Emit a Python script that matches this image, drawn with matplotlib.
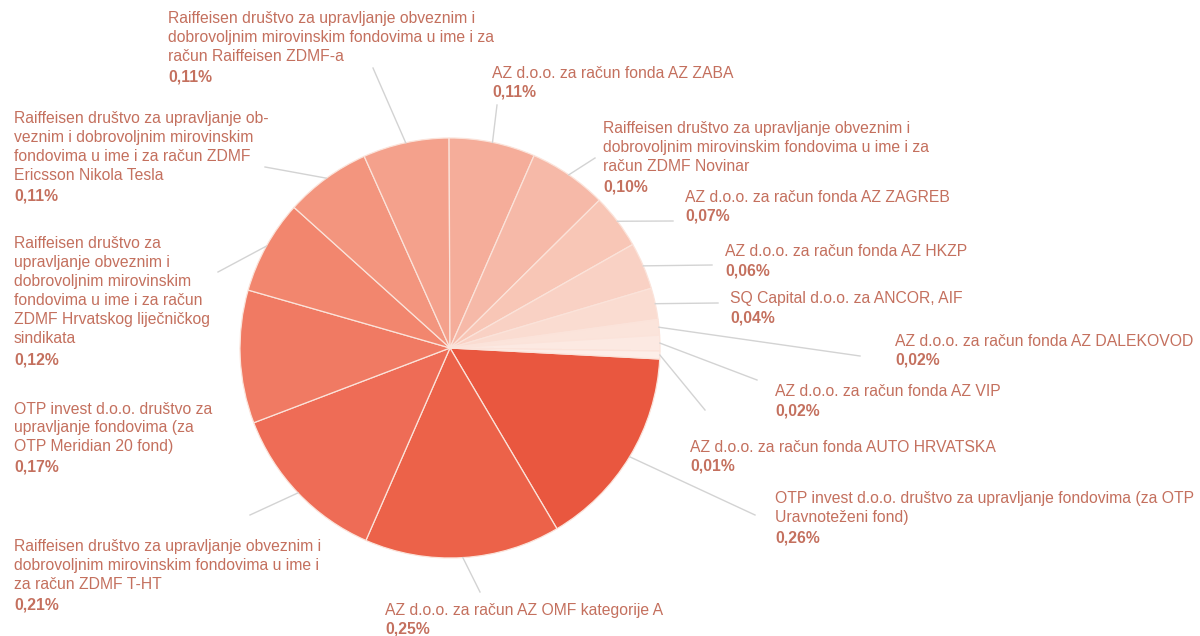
"""Pie of fund shares with outside labels and light leader lines."""

import numpy as np
import matplotlib

matplotlib.use("Agg")
import matplotlib.pyplot as plt

plt.rcParams["font.family"] = ["Liberation Sans", "DejaVu Sans"]

# Slices, clockwise from 3 o'clock.
NAMES = [
    "OTP invest d.o.o. društvo za upravljanje fondovima (za OTP\nUravnoteženi fond)",
    "AZ d.o.o. za račun AZ OMF kategorije A",
    "Raiffeisen društvo za upravljanje obveznim i\ndobrovoljnim mirovinskim fondovima u ime i\nza račun ZDMF T-HT",
    "OTP invest d.o.o. društvo za\nupravljanje fondovima (za\nOTP Meridian 20 fond)",
    "Raiffeisen društvo za\nupravljanje obveznim i\ndobrovoljnim mirovinskim\nfondovima u ime i za račun\nZDMF Hrvatskog liječničkog\nsindikata",
    "Raiffeisen društvo za upravljanje ob-\nveznim i dobrovoljnim mirovinskim\nfondovima u ime i za račun ZDMF\nEricsson Nikola Tesla",
    "Raiffeisen društvo za upravljanje obveznim i\ndobrovoljnim mirovinskim fondovima u ime i za\nračun Raiffeisen ZDMF-a",
    "AZ d.o.o. za račun fonda AZ ZABA",
    "Raiffeisen društvo za upravljanje obveznim i\ndobrovoljnim mirovinskim fondovima u ime i za\nračun ZDMF Novinar",
    "AZ d.o.o. za račun fonda AZ ZAGREB",
    "AZ d.o.o. za račun fonda AZ HKZP",
    "SQ Capital d.o.o. za ANCOR, AIF",
    "AZ d.o.o. za račun fonda AZ DALEKOVOD",
    "AZ d.o.o. za račun fonda AZ VIP",
    "AZ d.o.o. za račun fonda AUTO HRVATSKA",
]
SHARES = [0.26, 0.25, 0.21, 0.17, 0.12, 0.11, 0.11, 0.11, 0.10, 0.07, 0.06, 0.04, 0.02, 0.02, 0.01]

COLORS = [
    "#e9573f", "#ec6249", "#ee6c56", "#f07a63", "#f2866e", "#f3957e", "#f4a18c",
    "#f5ad9a", "#f6b9a8", "#f8c6b6", "#f9d1c4", "#fadcd1", "#fbe4db", "#fce9e2", "#fdeee8",
]

# Layout (image pixels, y down): label left x / first-line centre y, leader end.
LABEL_XY = [
    (775, 498), (385, 609), (14, 546), (14, 408), (14, 243), (14, 118), (168, 18),
    (492, 72), (603, 128), (685, 196), (725, 251), (730, 298), (895, 340), (775, 391), (690, 446),
]
LINE_END = [
    (755, 515), (480, 592), (250, 515), None, (218, 272), (265, 167), (373, 68),
    (497, 105), (595, 158), (673, 221), (712, 265), (718, 303), (860, 356), (757, 380), (705, 410),
]

W, H = 1200, 636
CX, CY, R = 450, 348, 210
FS = 11.3
LS = 1.33
PITCH = 19.3
TEXT = "#c4705e"
LINE = "#d3d3d3"


def fy(y):
    return H - y


fig = plt.figure(figsize=(12, 6.36), dpi=100)
ax = fig.add_axes([0, 0, 1, 1])
wedges, _ = ax.pie(
    SHARES,
    colors=COLORS,
    startangle=-3,
    counterclock=False,
    center=(CX, fy(CY)),
    radius=R,
    wedgeprops=dict(edgecolor="#fbe3da", linewidth=0.9),
)
ax.set_xlim(0, W)
ax.set_ylim(0, H)
ax.set_aspect("equal")
ax.axis("off")

for w, name, val, (lx, ly), end in zip(wedges, NAMES, SHARES, LABEL_XY, LINE_END):
    if end is not None:
        mid = np.deg2rad((w.theta1 + w.theta2) / 2)
        x0 = CX + R * np.cos(mid)
        y0 = fy(CY) + R * np.sin(mid)
        ax.plot([x0, end[0]], [y0, fy(end[1])], color=LINE, linewidth=1.0, zorder=1)
    n = name.count("\n") + 1
    top = ly - 6.5
    ax.text(lx, fy(top), name, ha="left", va="top", fontsize=FS, color=TEXT, linespacing=LS)
    pct = f"{val:.2f}".replace(".", ",") + "%"
    ax.text(lx, fy(top + n * PITCH), pct, ha="left", va="top", fontsize=FS, color=TEXT,
            fontweight="bold")

fig.savefig("out.png", dpi=100, facecolor="white")
